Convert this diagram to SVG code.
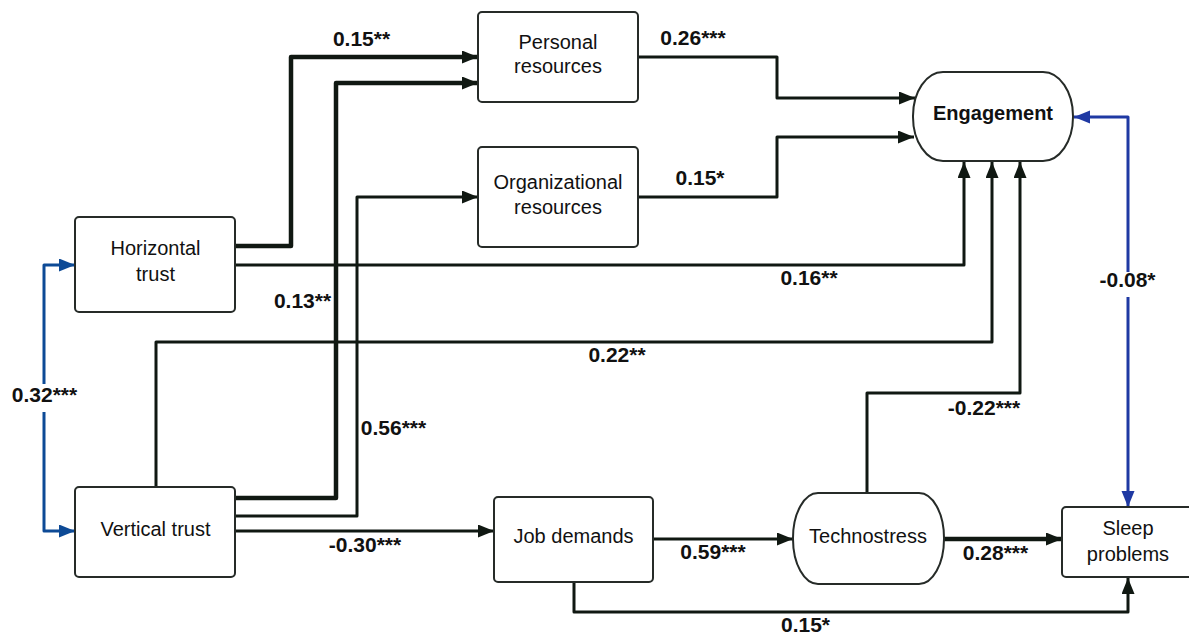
<svg xmlns="http://www.w3.org/2000/svg" width="1189" height="634" viewBox="0 0 1189 634">
<style>
.box{fill:#fff;stroke:#262b28;stroke-width:2}
.nt{font-family:"Liberation Sans",Arial,sans-serif;font-size:20px;fill:#111;text-anchor:middle}
.bold{font-weight:bold}
.lb{font-family:"Liberation Sans",Arial,sans-serif;font-size:21px;font-weight:bold;fill:#111;text-anchor:middle}
.c{fill:none;stroke:#101812;stroke-width:3;stroke-linejoin:round}
.thick{stroke-width:4.5}
.b1{fill:none;stroke:#0d4a96;stroke-width:3;stroke-linejoin:round}
.b2{fill:none;stroke:#1f39a3;stroke-width:3;stroke-linejoin:round}
</style>
<defs>
<marker id="ak" markerUnits="userSpaceOnUse" markerWidth="18" markerHeight="14" refX="16" refY="6.5" orient="auto"><path d="M0,0 L16,6.5 L0,13 Z" fill="#101812"/></marker>
<marker id="ab1" markerUnits="userSpaceOnUse" markerWidth="18" markerHeight="14" refX="16" refY="6.5" orient="auto"><path d="M0,0 L16,6.5 L0,13 Z" fill="#0d4a96"/></marker>
<marker id="ab2" markerUnits="userSpaceOnUse" markerWidth="18" markerHeight="14" refX="16" refY="6.5" orient="auto"><path d="M0,0 L16,6.5 L0,13 Z" fill="#1f39a3"/></marker>
</defs>
<rect width="1189" height="634" fill="#fff"/>
<g id="connectors">
<path class="c thick" d="M236,246 H291 V57 H478" marker-end="url(#ak)"/>
<path class="c thick" d="M236,498 H336 V83 H478" marker-end="url(#ak)"/>
<path class="c" d="M236,516 H357 V197 H478" marker-end="url(#ak)"/>
<path class="c" d="M236,265 H964 V162" marker-end="url(#ak)"/>
<path class="c" d="M156,487 V342 H992 V162" marker-end="url(#ak)"/>
<path class="c" d="M867,493 V393 H1020 V162" marker-end="url(#ak)"/>
<path class="c" d="M638,57 H777 V98 H915" marker-end="url(#ak)"/>
<path class="c" d="M638,197 H777 V137 H914" marker-end="url(#ak)"/>
<path class="c" d="M236,531 H494" marker-end="url(#ak)"/>
<path class="c" d="M654,539 H793" marker-end="url(#ak)"/>
<path class="c thick" d="M944,539 H1062" marker-end="url(#ak)"/>
<path class="c" d="M574,582 V612 H1128 V578" marker-end="url(#ak)"/>
<path class="b2" d="M1128,272 V117 H1074" marker-end="url(#ab2)"/>
<path class="b2" d="M1128,297 V507" marker-end="url(#ab2)"/>
<path class="b1" d="M44,384 V265 H75" marker-end="url(#ab1)"/>
<path class="b1" d="M44,412 V531 H75" marker-end="url(#ab1)"/>
</g>
<g id="horizontal-trust">
<rect class="box" x="75" y="217" width="160" height="95" rx="4"/>
<text class="nt" x="155.5" y="255">Horizontal</text>
<text class="nt" x="155.5" y="281">trust</text>
</g>
<g id="vertical-trust">
<rect class="box" x="75" y="487" width="160" height="90" rx="4"/>
<text class="nt" x="155.5" y="536">Vertical trust</text>
</g>
<g id="personal-resources">
<rect class="box" x="478" y="12" width="160" height="90" rx="4"/>
<text class="nt" x="558" y="49">Personal</text>
<text class="nt" x="558" y="73">resources</text>
</g>
<g id="organizational-resources">
<rect class="box" x="478" y="147" width="160" height="100" rx="4"/>
<text class="nt" x="558" y="189">Organizational</text>
<text class="nt" x="558" y="214">resources</text>
</g>
<g id="engagement">
<rect class="box" x="913" y="72" width="160" height="89" rx="30" ry="44"/>
<text class="nt bold" x="993" y="120">Engagement</text>
</g>
<g id="job-demands">
<rect class="box" x="494" y="497" width="159" height="85" rx="4"/>
<text class="nt" x="573.5" y="543">Job demands</text>
</g>
<g id="technostress">
<rect class="box" x="793" y="493" width="151" height="91" rx="25" ry="45"/>
<text class="nt" x="868" y="543">Technostress</text>
</g>
<g id="sleep-problems">
<rect class="box" x="1062" y="507" width="134" height="70" rx="4"/>
<text class="nt" x="1128" y="535">Sleep</text>
<text class="nt" x="1128" y="561">problems</text>
</g>
<g id="labels">
<text class="lb" x="361.5" y="46">0.15**</text>
<text class="lb" x="693" y="45">0.26***</text>
<text class="lb" x="700" y="185">0.15*</text>
<text class="lb" x="809" y="285">0.16**</text>
<text class="lb" x="1127.5" y="287">-0.08*</text>
<text class="lb" x="302.5" y="308">0.13**</text>
<text class="lb" x="44.5" y="402">0.32***</text>
<text class="lb" x="393.5" y="435">0.56***</text>
<text class="lb" x="617" y="362">0.22**</text>
<text class="lb" x="365" y="552">-0.30***</text>
<text class="lb" x="713" y="559">0.59***</text>
<text class="lb" x="984" y="415">-0.22***</text>
<text class="lb" x="995.5" y="560">0.28***</text>
<text class="lb" x="805.5" y="632">0.15*</text>
</g>
</svg>
